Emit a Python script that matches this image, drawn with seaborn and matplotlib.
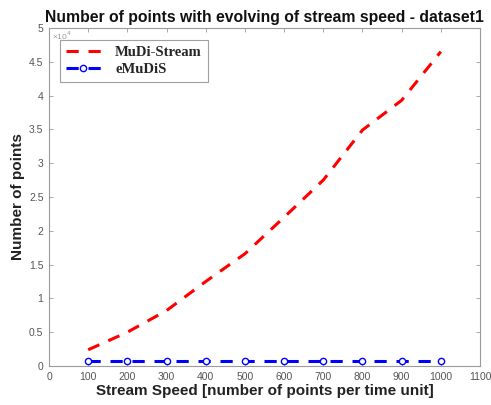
import matplotlib
matplotlib.use("Agg")
import matplotlib.pyplot as plt
import seaborn as sns
import pandas as pd
import numpy as np

# Stream speeds (points per time unit) and number of points (x10^4)
speeds = [100, 200, 300, 400, 500, 600, 700, 800, 900, 1000]
mudi_stream = [0.24, 0.50, 0.82, 1.25, 1.66, 2.20, 2.75, 3.49, 3.93, 4.65]
emudis = [0.07, 0.07, 0.07, 0.07, 0.07, 0.07, 0.07, 0.07, 0.07, 0.07]

x_ticks = [0, 100, 200, 300, 400, 500, 600, 700, 800, 900, 1000, 1100]
y_ticks = [0, 0.5, 1, 1.5, 2, 2.5, 3, 3.5, 4, 4.5, 5]
y_tick_labels = ["0", "0.5", "1", "1.5", "2", "2.5", "3", "3.5", "4", "4.5", "5"]

df = pd.DataFrame({
    "speed": speeds * 2,
    "points": mudi_stream + emudis,
    "method": ["MuDi-Stream"] * len(speeds) + ["eMuDiS"] * len(speeds),
})

sns.set_style("white")
plt.rcParams["font.family"] = ["Liberation Sans", "DejaVu Sans"]

fig = plt.figure(figsize=(4.91, 4.05), dpi=100)
ax = fig.add_axes([0.0998, 0.0963, 0.8778, 0.8346])

sns.lineplot(data=df[df.method == "MuDi-Stream"], x="speed", y="points", ax=ax,
             color="#ff0000", linewidth=2.2, dashes=False, label="MuDi-Stream")
sns.lineplot(data=df[df.method == "eMuDiS"], x="speed", y="points", ax=ax,
             color="#0000ff", linewidth=2.2, marker="o", markersize=4.5,
             markerfacecolor="white", markeredgecolor="#0000ff", markeredgewidth=1.0,
             label="eMuDiS")
for line in ax.get_lines():
    line.set_linestyle((0, (4, 3.2)))

ax.set_xlim(0, 1100)
ax.set_ylim(0, 5)
ax.set_xticks(x_ticks)
ax.set_yticks(y_ticks)
ax.set_yticklabels(y_tick_labels)

grey = "#555555"
for s in ax.spines.values():
    s.set_color("#9a9a9a")
    s.set_linewidth(0.8)
ax.tick_params(direction="in", length=3, width=0.6, color="#9a9a9a",
               labelcolor=grey, labelsize=7.5, top=True, right=True,
               bottom=True, left=True, pad=4)

# scale multiplier tucked into the top-left corner of the axes
ax.text(0.006, 0.994, "×10$^4$", transform=ax.transAxes, fontsize=6,
        color="#999999", va="top", ha="left", zorder=0)

ax.set_title("Number of points with evolving of stream speed - dataset1",
             fontsize=11.3, fontweight="bold", color="#111111", pad=4, zorder=5)
ax.set_xlabel("Stream Speed [number of points per time unit]",
              fontsize=11, fontweight="bold", color="#222222", labelpad=2)
ax.set_ylabel("Number of points", fontsize=11, fontweight="bold",
              color="#222222", labelpad=3)

leg = ax.legend(loc="upper left", bbox_to_anchor=(0.025, 0.965), frameon=True,
                fancybox=False, borderaxespad=0, handlelength=2.4,
                prop={"family": "Liberation Serif", "weight": "bold", "size": 10.5},
                borderpad=0.4, labelspacing=0.3, handletextpad=1.0)
leg.get_frame().set_edgecolor("#888888")
leg.get_frame().set_linewidth(0.8)

fig.savefig("out.png", dpi=100)
